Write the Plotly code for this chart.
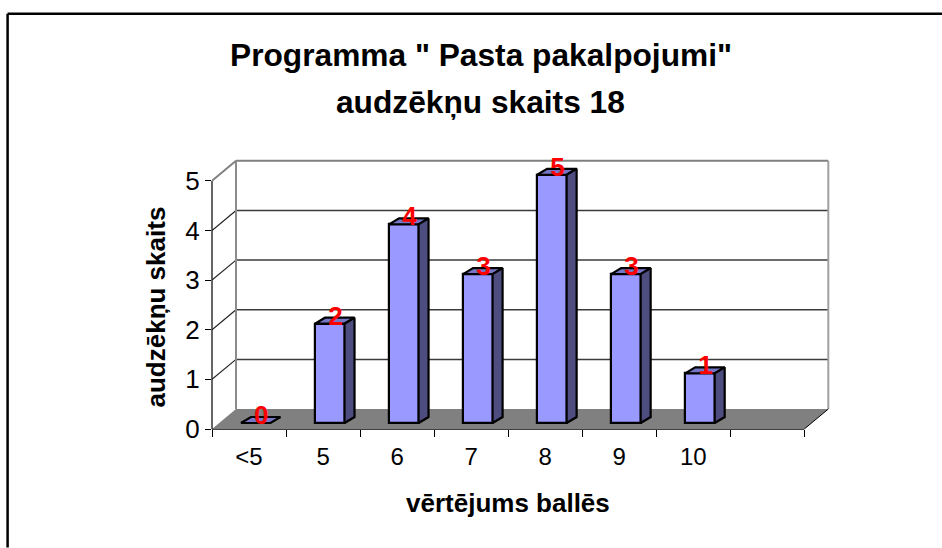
import plotly.graph_objects as go

categories = ["<5", "5", "6", "7", "8", "9", "10", ""]
values = [0, 2, 4, 3, 5, 3, 1]
y_ticks = [0, 1, 2, 3, 4, 5]
title_line_1 = 'Programma " Pasta pakalpojumi"'
title_line_2 = "audzēkņu skaits 18"
y_title = "audzēkņu skaits"
x_title = "vērtējums ballēs"

W, H = 942, 548
LEFT, RIGHT, TOP, BOTTOM = 212.3, 832.0, 156.0, 429.3
UX, UY = 74.0, 49.7            # pixels per category / per unit
DX, DY = 24.0 / UX, 20.0 / UY  # depth of the chart floor, in axis units
BAR_W = 29.5 / UX
BAR_DX, BAR_BASE = 6.7 / UX, 6.0 / UY
SIDE_DX, SIDE_DY = 10.0 / UX, 6.0 / UY
FONT = "Liberation Sans, Arial, sans-serif"
n = len(categories)
x_max = (RIGHT - LEFT) / UX
y_max = (BOTTOM - TOP) / UY
x_back = n + DX

centers = [i + 0.5 for i in range(n)]
edges = list(range(n + 1))
bar_x = [centers[i] + BAR_DX for i in range(len(values))]


def px_x(p):
    return (p - LEFT) / (RIGHT - LEFT)


def px_y(p):
    return (BOTTOM - p) / (BOTTOM - TOP)


def poly(xs, ys, fill):
    return dict(type="path", layer="below", xref="x", yref="y",
                path="M" + "L".join(f"{a},{b}" for a, b in zip(xs, ys)) + "Z",
                fillcolor=fill, line=dict(width=0))


def seg(x0, y0, x1, y1, color, width):
    return dict(type="line", layer="below", xref="x", yref="y", x0=x0, y0=y0, x1=x1, y1=y1,
                line=dict(color=color, width=width))


shapes = [poly([0, DX, x_back, n], [0, DY, DY, 0], "#808080")]
for v in y_ticks[1:]:
    top = v == y_ticks[-1]
    shapes.append(seg(DX, v + DY, x_back, v + DY, "#808080" if top else "#3a3a3a", 2 if top else 1.5))
    shapes.append(seg(0, v, DX, v + DY, "#808080" if top else "#222222", 2 if top else 1.2))
shapes += [
    seg(DX, DY, DX, y_ticks[-1] + DY, "#8c8c8c", 2),
    seg(x_back, DY, x_back, y_ticks[-1] + DY, "#a0a0a0", 2),
    seg(n, 0, x_back, DY, "#000000", 1),
    # front axis lines: one end of each is referenced to the paper so it is not clipped
    dict(type="line", layer="below", xref="paper", yref="y", x0=0, x1=0, y0=0, y1=y_ticks[-1],
         line=dict(color="#333333", width=1.5)),
    dict(type="line", layer="below", xref="x", yref="paper", x0=0, x1=n, y0=0, y1=0,
         line=dict(color="#000000", width=1.5)),
]
# outer frame: only its left and top edges fall inside the picture
shapes += [
    dict(type="line", xref="paper", yref="paper", x0=px_x(8), x1=px_x(W), y0=px_y(13.5), y1=px_y(13.5),
         line=dict(color="#000000", width=2.5)),
    dict(type="line", xref="paper", yref="paper", x0=px_x(8), x1=px_x(8), y0=px_y(13.5), y1=px_y(H),
         line=dict(color="#000000", width=2.5)),
]

fig = go.Figure()
fig.add_trace(go.Bar(x=bar_x, y=values, base=BAR_BASE, width=BAR_W, showlegend=False,
                     marker=dict(color="#9999FF", line=dict(color="#000000", width=2.2))))

edge = dict(color="#000000", width=2.2)
for xc, v in zip(bar_x, values):
    l, r = xc - BAR_W / 2, xc + BAR_W / 2
    t = v + BAR_BASE
    fig.add_trace(go.Scatter(
        x=[l, r, r + SIDE_DX, l + SIDE_DX, l], y=[t, t, t + SIDE_DY, t + SIDE_DY, t],
        mode="lines", fill="toself", fillcolor="#7676C6", line=edge, showlegend=False, hoverinfo="skip"))
    if v > 0:
        fig.add_trace(go.Scatter(
            x=[r, r + SIDE_DX, r + SIDE_DX, r, r],
            y=[BAR_BASE, BAR_BASE + SIDE_DY, t + SIDE_DY, t, BAR_BASE],
            mode="lines", fill="toself", fillcolor="#4D4D80", line=edge, showlegend=False, hoverinfo="skip"))

fig.add_trace(go.Scatter(
    x=[xc + 5.6 / UX for xc in bar_x], y=[v + BAR_BASE + 5.5 / UY for v in values],
    mode="text", text=[str(v) for v in values], textposition="middle center",
    textfont=dict(family=FONT, size=26, color="#FF0000", weight="bold"),
    showlegend=False, cliponaxis=False))


def label(text, px, py, size, angle=0):
    return dict(text=text, xref="paper", yref="paper", x=px_x(px), y=px_y(py), textangle=angle,
                xanchor="center", yanchor="middle", showarrow=False,
                font=dict(family=FONT, size=size, weight="bold", color="#000000"))


fig.update_layout(
    width=W, height=H, autosize=False, paper_bgcolor="#FFFFFF", plot_bgcolor="#FFFFFF",
    margin=dict(l=LEFT, r=W - RIGHT, t=TOP, b=H - BOTTOM, pad=0),
    font=dict(family=FONT, color="#000000"), shapes=shapes, bargap=0,
    annotations=[label(title_line_1, 481, 55, 31.7), label(title_line_2, 481, 102, 31.7),
                 label(y_title, 156, 307, 26, -90), label(x_title, 508.5, 503, 26)],
    xaxis=dict(range=[0, x_max], tickvals=centers, ticktext=categories, showgrid=False,
               ticks="outside", ticklen=6, tickcolor="rgba(0,0,0,0)",
               showline=False, zeroline=False, tickfont=dict(size=24), fixedrange=True,
               minor=dict(tickvals=edges, ticks="outside", ticklen=7, tickwidth=1,
                          tickcolor="#000000", showgrid=False)),
    yaxis=dict(range=[0, y_max], tickvals=y_ticks, ticks="outside", ticklen=6, tickwidth=1,
               tickcolor="#000000", showgrid=False, showline=False, zeroline=False,
               tickfont=dict(size=26), fixedrange=True),
)

fig.write_html("out.html", post_script="document.body.style.margin='0';",
               config=dict(displayModeBar=False))
